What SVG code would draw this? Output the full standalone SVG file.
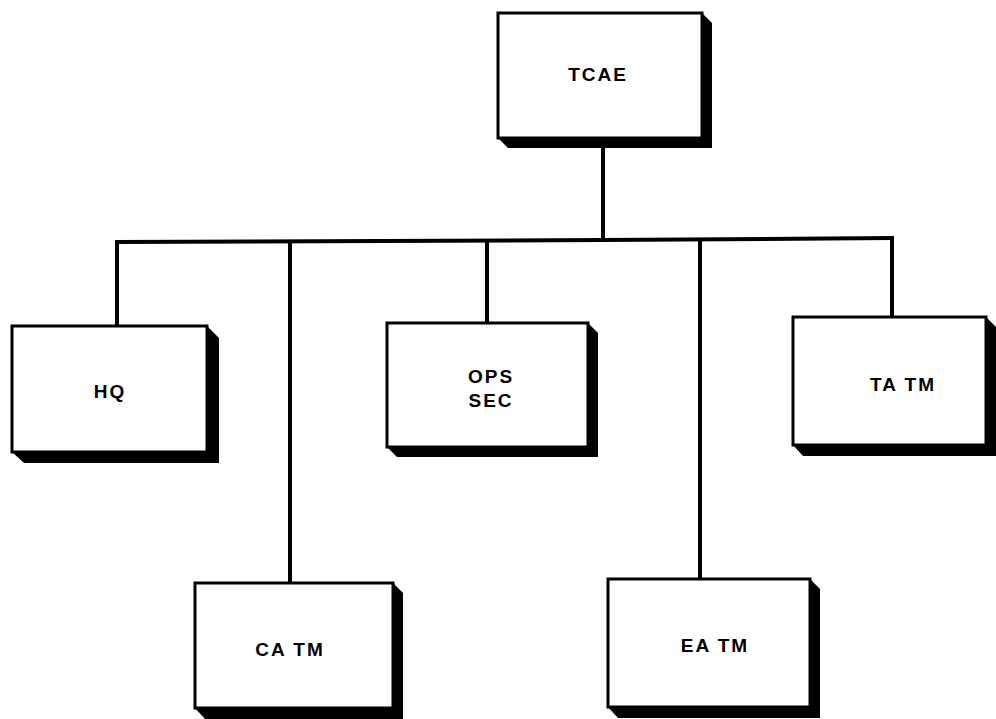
<svg xmlns="http://www.w3.org/2000/svg" width="996" height="719" viewBox="0 0 996 719">
<style>
.box{fill:#fff;stroke:#000;stroke-width:3}
.sh{fill:#000}
.ln{stroke:#000;stroke-width:4;fill:none;stroke-linecap:square}
.t{font-family:"Liberation Sans",Arial,sans-serif;font-weight:bold;font-size:19px;letter-spacing:2px;text-anchor:middle;fill:#000}
</style>
<rect width="996" height="719" fill="#fff"/>
<g id="connectors">
<line class="ln" x1="603" y1="148" x2="603" y2="240"/>
<polyline class="ln" points="117,242 603,240 892,238"/>
<line class="ln" x1="117" y1="242" x2="117" y2="326"/>
<line class="ln" x1="290" y1="242" x2="290" y2="583"/>
<line class="ln" x1="487" y1="241" x2="487" y2="323"/>
<line class="ln" x1="700" y1="240" x2="700" y2="579"/>
<line class="ln" x1="892" y1="238" x2="892" y2="317"/>
</g>
<g id="tcae">
<polygon class="sh" points="702,13 712,23 712,148 508,148 498,138"/>
<rect class="box" x="498" y="13" width="204" height="125"/>
<text class="t" x="598" y="81">TCAE</text>
</g>
<g id="hq">
<polygon class="sh" points="207,326 219,338 219,463 24,463 12,452"/>
<rect class="box" x="12" y="326" width="195" height="126"/>
<text class="t" x="110" y="398">HQ</text>
</g>
<g id="ops">
<polygon class="sh" points="588,323 598,333 598,457 397,457 387,447"/>
<rect class="box" x="387" y="323" width="201" height="124"/>
<text class="t" x="491" y="383">OPS</text>
<text class="t" x="491" y="407">SEC</text>
</g>
<g id="tatm">
<polygon class="sh" points="986,317 996,327 996,456 803,456 793,445"/>
<rect class="box" x="793" y="317" width="193" height="128"/>
<text class="t" x="903" y="391">TA TM</text>
</g>
<g id="catm">
<polygon class="sh" points="393,583 403,593 403,719 205,719 195,708"/>
<rect class="box" x="195" y="583" width="198" height="125"/>
<text class="t" x="290" y="656">CA TM</text>
</g>
<g id="eatm">
<polygon class="sh" points="810,579 820,589 820,718 618,718 608,707"/>
<rect class="box" x="608" y="579" width="202" height="128"/>
<text class="t" x="715" y="652">EA TM</text>
</g>
</svg>
